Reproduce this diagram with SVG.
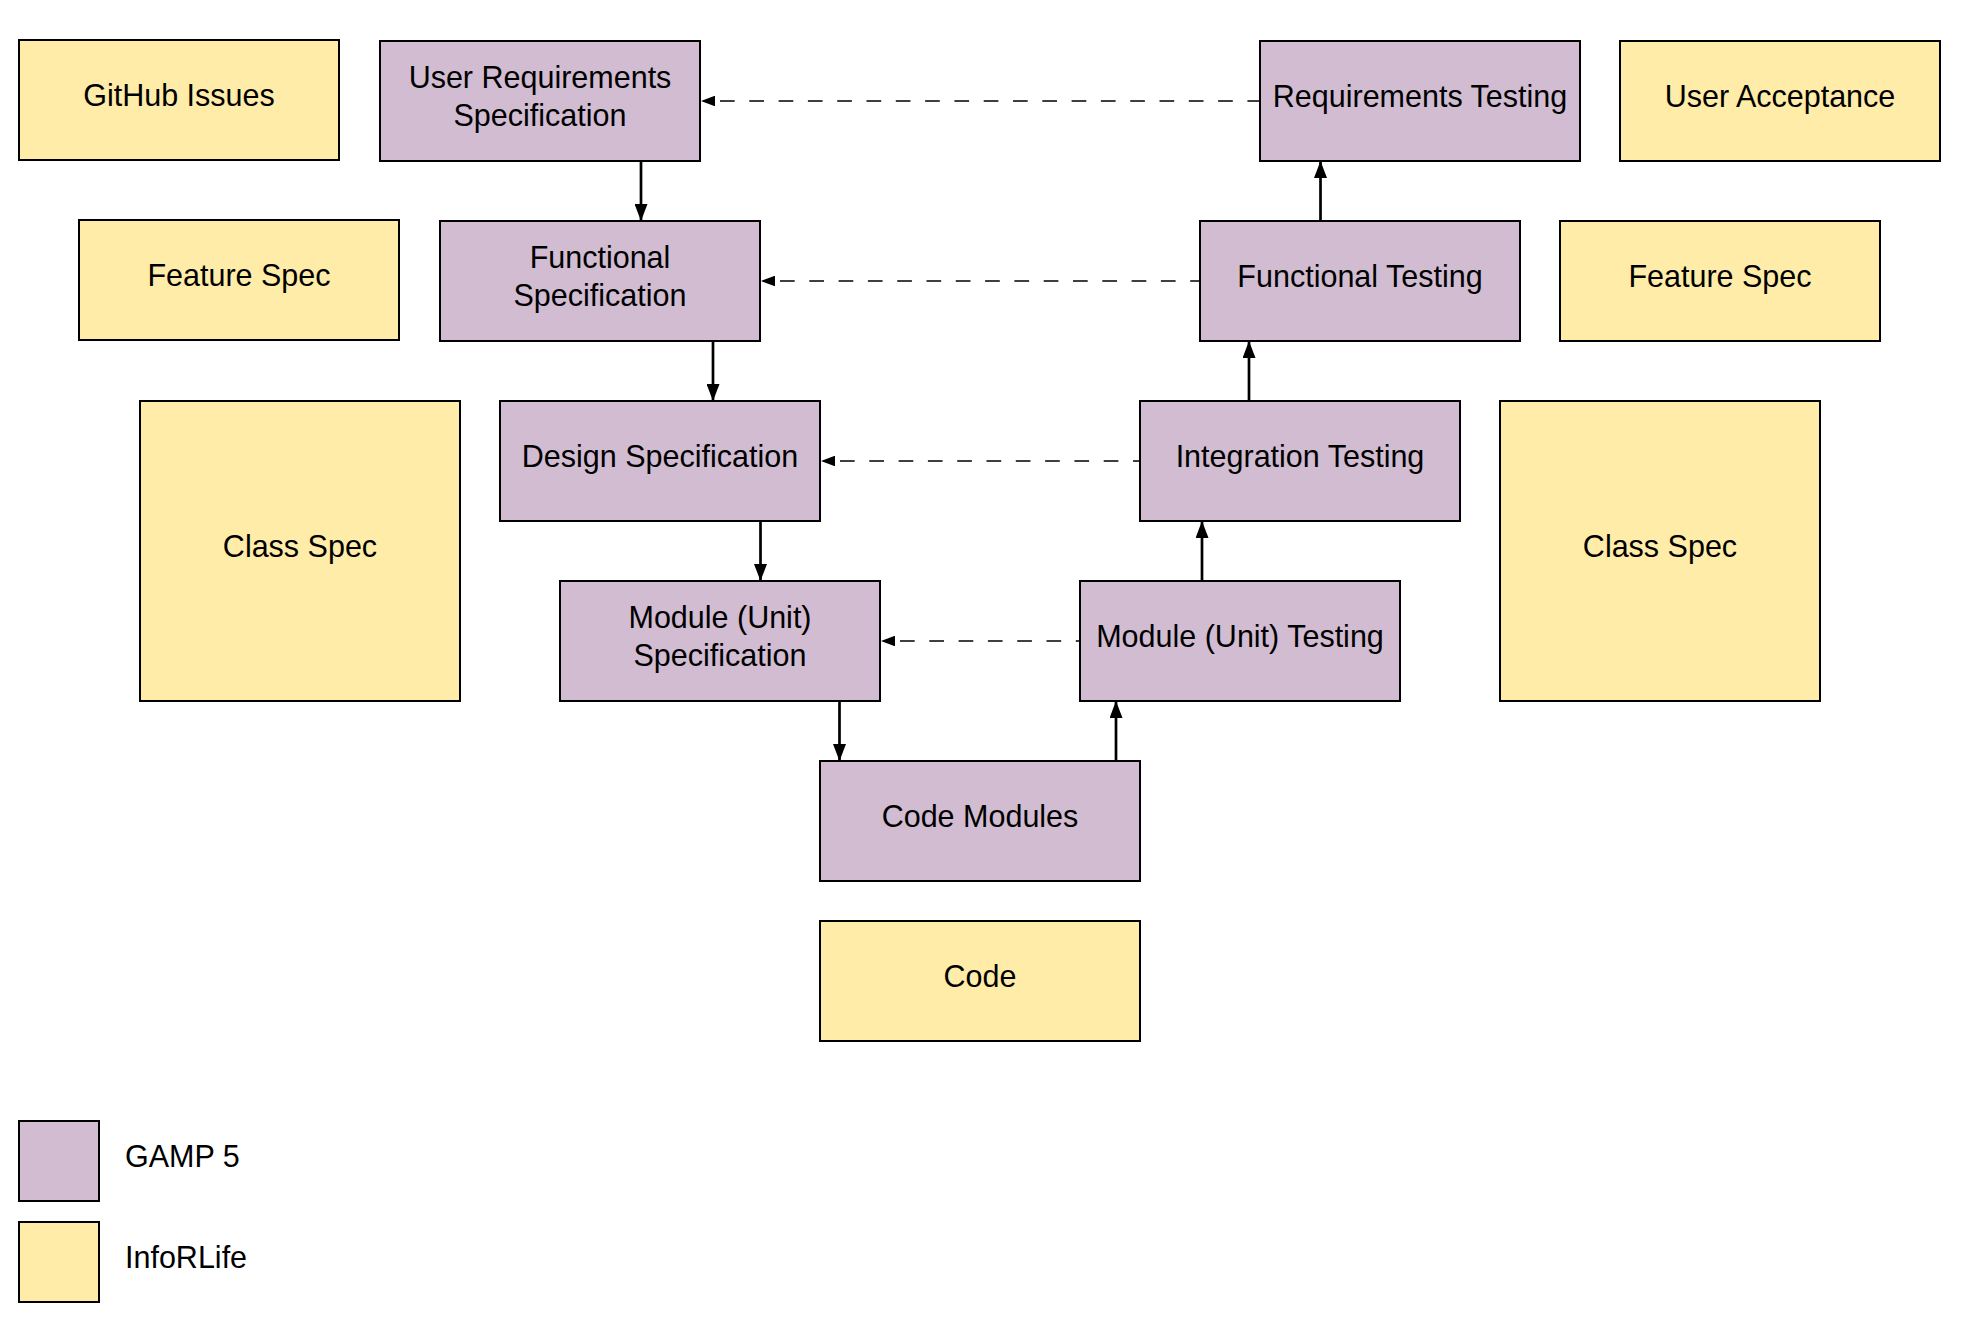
<svg xmlns="http://www.w3.org/2000/svg" width="1980" height="1342" viewBox="0 0 1980 1342">
  <defs>
    <style>
      .gamp { fill: #D1BCD2; stroke: #000; stroke-width: 2; }
      .info { fill: #FFECA8; stroke: #000; stroke-width: 2; }
      .lbl { font-family: "Liberation Sans", Arial, sans-serif; font-size: 30.5px; fill: #000; text-anchor: middle; }
      .leg { font-family: "Liberation Sans", Arial, sans-serif; font-size: 30.5px; fill: #000; }
      .solid { fill: none; stroke: #000; stroke-width: 2.7; }
      .dash { fill: none; stroke: #000; stroke-width: 1.5; stroke-dasharray: 14.7 14.6; stroke-dashoffset: 24.3; }
    </style>
    <marker id="ahSolid" markerUnits="userSpaceOnUse" viewBox="0 0 17 13" markerWidth="17" markerHeight="13" refX="17" refY="6.5" orient="auto">
      <path d="M0,0 L17,6.5 L0,13 z" fill="#000"/>
    </marker>
    <marker id="ahDash" markerUnits="userSpaceOnUse" viewBox="0 0 14 10.6" markerWidth="14" markerHeight="10.6" refX="0" refY="5.3" orient="auto-start-reverse">
      <path d="M0,0 L14,5.3 L0,10.6 z" fill="#000"/>
    </marker>
  </defs>
  <rect width="1980" height="1342" fill="#fff"/>

  <g id="connectors">
    <path class="solid" d="M641,161 V221" marker-end="url(#ahSolid)"/>
    <path class="solid" d="M713,341 V401" marker-end="url(#ahSolid)"/>
    <path class="solid" d="M760.5,521 V581" marker-end="url(#ahSolid)"/>
    <path class="solid" d="M839.5,701 V761" marker-end="url(#ahSolid)"/>
    <path class="solid" d="M1116,761 V701" marker-end="url(#ahSolid)"/>
    <path class="solid" d="M1202,581 V521" marker-end="url(#ahSolid)"/>
    <path class="solid" d="M1249,401 V341" marker-end="url(#ahSolid)"/>
    <path class="solid" d="M1320.5,221 V161" marker-end="url(#ahSolid)"/>
    <path class="dash" d="M715,101 H1260" marker-start="url(#ahDash)"/>
    <path class="dash" d="M775,281 H1200" marker-start="url(#ahDash)"/>
    <path class="dash" d="M835,461 H1140" marker-start="url(#ahDash)"/>
    <path class="dash" d="M895,641 H1080" marker-start="url(#ahDash)"/>
  </g>

  <g id="github-issues">
    <rect class="info" x="19" y="40" width="320" height="120"/>
    <text class="lbl" x="179" y="106">GitHub Issues</text>
  </g>
  <g id="user-requirements-specification">
    <rect class="gamp" x="380" y="41" width="320" height="120"/>
    <text class="lbl" x="540" y="88">User Requirements</text>
    <text class="lbl" x="540" y="126">Specification</text>
  </g>
  <g id="requirements-testing">
    <rect class="gamp" x="1260" y="41" width="320" height="120"/>
    <text class="lbl" x="1420" y="107">Requirements Testing</text>
  </g>
  <g id="user-acceptance">
    <rect class="info" x="1620" y="41" width="320" height="120"/>
    <text class="lbl" x="1780" y="107">User Acceptance</text>
  </g>

  <g id="feature-spec-left">
    <rect class="info" x="79" y="220" width="320" height="120"/>
    <text class="lbl" x="239" y="286">Feature Spec</text>
  </g>
  <g id="functional-specification">
    <rect class="gamp" x="440" y="221" width="320" height="120"/>
    <text class="lbl" x="600" y="268">Functional</text>
    <text class="lbl" x="600" y="306">Specification</text>
  </g>
  <g id="functional-testing">
    <rect class="gamp" x="1200" y="221" width="320" height="120"/>
    <text class="lbl" x="1360" y="287">Functional Testing</text>
  </g>
  <g id="feature-spec-right">
    <rect class="info" x="1560" y="221" width="320" height="120"/>
    <text class="lbl" x="1720" y="287">Feature Spec</text>
  </g>

  <g id="class-spec-left">
    <rect class="info" x="140" y="401" width="320" height="300"/>
    <text class="lbl" x="300" y="557">Class Spec</text>
  </g>
  <g id="design-specification">
    <rect class="gamp" x="500" y="401" width="320" height="120"/>
    <text class="lbl" x="660" y="467">Design Specification</text>
  </g>
  <g id="integration-testing">
    <rect class="gamp" x="1140" y="401" width="320" height="120"/>
    <text class="lbl" x="1300" y="467">Integration Testing</text>
  </g>
  <g id="class-spec-right">
    <rect class="info" x="1500" y="401" width="320" height="300"/>
    <text class="lbl" x="1660" y="557">Class Spec</text>
  </g>

  <g id="module-unit-specification">
    <rect class="gamp" x="560" y="581" width="320" height="120"/>
    <text class="lbl" x="720" y="628">Module (Unit)</text>
    <text class="lbl" x="720" y="666">Specification</text>
  </g>
  <g id="module-unit-testing">
    <rect class="gamp" x="1080" y="581" width="320" height="120"/>
    <text class="lbl" x="1240" y="647">Module (Unit) Testing</text>
  </g>

  <g id="code-modules">
    <rect class="gamp" x="820" y="761" width="320" height="120"/>
    <text class="lbl" x="980" y="827">Code Modules</text>
  </g>
  <g id="code">
    <rect class="info" x="820" y="921" width="320" height="120"/>
    <text class="lbl" x="980" y="987">Code</text>
  </g>

  <g id="legend-gamp5">
    <rect class="gamp" x="19" y="1121" width="80" height="80"/>
    <text class="leg" x="125" y="1167">GAMP 5</text>
  </g>
  <g id="legend-inforlife">
    <rect class="info" x="19" y="1222" width="80" height="80"/>
    <text class="leg" x="125" y="1268">InfoRLife</text>
  </g>
</svg>
